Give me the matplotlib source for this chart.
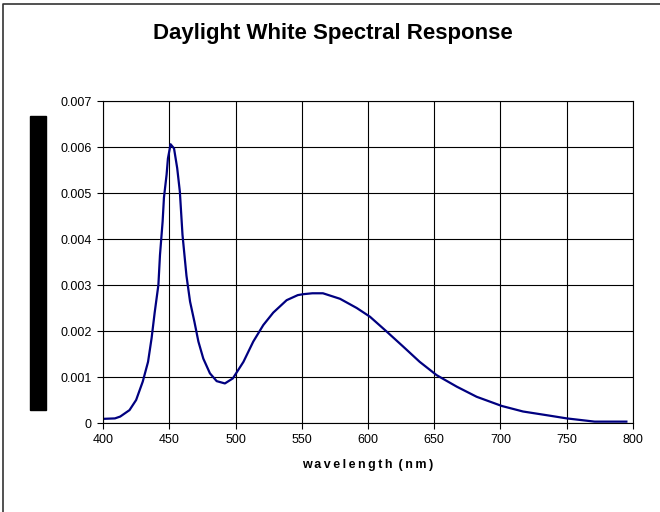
import matplotlib
matplotlib.use('Agg')
import matplotlib.pyplot as plt
from matplotlib.lines import Line2D
from matplotlib.patches import Rectangle

plt.rcParams['font.family'] = ['Liberation Sans', 'DejaVu Sans']

# values
wavelength = [400, 409, 413, 420, 425, 430, 434, 436.7, 439, 441.8, 443, 445, 446, 448, 449,
              451, 453.6, 456, 458, 460, 463, 465.7, 469, 472, 475.7, 480.7, 485.8, 492, 498,
              506, 513.4, 521, 528.5, 538.6, 547, 551, 558, 566, 578.9, 591.5, 601.5, 614,
              626.6, 639, 651.8, 667, 682, 701, 717, 737, 750, 771, 795]
response = [0.00009, 0.0001, 0.00014, 0.00028, 0.0005, 0.0009, 0.00133, 0.00185, 0.0024, 0.003,
            0.00365, 0.00438, 0.0049, 0.0054, 0.00575, 0.00606, 0.00597, 0.00554, 0.00503,
            0.00409, 0.0032, 0.00264, 0.0022, 0.00177, 0.0014, 0.00108, 0.00091, 0.00086,
            0.00097, 0.00133, 0.00177, 0.00213, 0.0024, 0.00267, 0.00278, 0.0028, 0.00282,
            0.00282, 0.0027, 0.0025, 0.00231, 0.00199, 0.00166, 0.00133, 0.00104, 0.00079,
            0.00057, 0.00037, 0.00025, 0.00016, 0.0001, 0.00003, 0.00003]

x_ticks = [400, 450, 500, 550, 600, 650, 700, 750, 800]
y_ticks = [0, 0.001, 0.002, 0.003, 0.004, 0.005, 0.006, 0.007]
y_labels = ['0', '0.001', '0.002', '0.003', '0.004', '0.005', '0.006', '0.007']

fig = plt.figure(figsize=(6.6, 5.12), dpi=100)
ax = fig.add_axes([103 / 660, 89 / 512, 530 / 660, 322 / 512])

ax.plot(wavelength, response, color='#000080', lw=1.6)

ax.set_xlim(400, 800)
ax.set_ylim(0, 0.007)
ax.set_xticks(x_ticks)
ax.set_yticks(y_ticks)
ax.set_yticklabels(y_labels)
ax.grid(True, color='black', lw=0.8)
ax.set_axisbelow(True)
for s in ax.spines.values():
    s.set_color('black')
    s.set_linewidth(0.8)
ax.tick_params(direction='out', length=4, width=0.8, labelsize=9, pad=4)

ax.set_xlabel('w\u2009a\u2009v\u2009e\u2009l\u2009e\u2009n\u2009g\u2009t\u2009h\u2009 (\u2009n\u2009m\u2009)',
              fontsize=9, fontweight='bold', labelpad=9)
fig.text(333 / 660, 1 - 34 / 512, 'Daylight White Spectral Response',
         ha='center', va='center', fontsize=16, fontweight='bold')

# redacted y-axis label block
fig.patches.append(Rectangle((30 / 660, 102 / 512), 16 / 660, 294 / 512,
                             transform=fig.transFigure, color='black'))
# chart border (only top and left edges are inside the picture)
fig.lines.append(Line2D([3 / 660, 3 / 660, 1], [0, 1 - 4 / 512, 1 - 4 / 512],
                        transform=fig.transFigure, color='#333333', lw=1.2))

fig.savefig('out.png', dpi=100)
